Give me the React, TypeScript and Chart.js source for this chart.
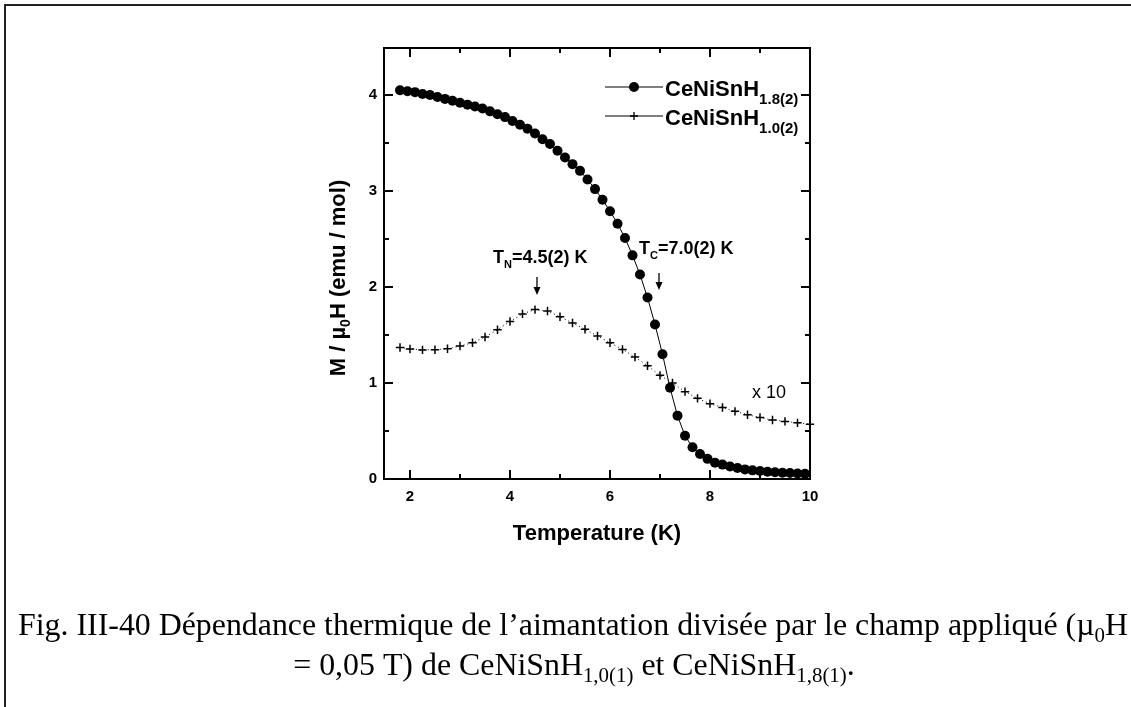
import React, { useEffect, useRef } from "react";
import { Chart, registerables } from "chart.js";

Chart.register(...registerables);

// ---- data ----
const temps18 = [1.8, 1.95, 2.1, 2.25, 2.4, 2.55, 2.7, 2.85, 3.0, 3.15, 3.3, 3.45, 3.6, 3.75, 3.9, 4.05, 4.2, 4.35, 4.5, 4.65, 4.8, 4.95, 5.1, 5.25, 5.4, 5.55, 5.7, 5.85, 6.0, 6.15, 6.3, 6.45, 6.6, 6.75, 6.9, 7.05, 7.2, 7.35, 7.5, 7.65, 7.8, 7.95, 8.1, 8.25, 8.4, 8.55, 8.7, 8.85, 9.0, 9.15, 9.3, 9.45, 9.6, 9.75, 9.9];
const moment18 = [4.05, 4.04, 4.03, 4.01, 4.0, 3.98, 3.96, 3.94, 3.92, 3.9, 3.88, 3.86, 3.83, 3.8, 3.77, 3.73, 3.69, 3.65, 3.6, 3.54, 3.49, 3.42, 3.35, 3.28, 3.21, 3.12, 3.02, 2.91, 2.79, 2.66, 2.51, 2.33, 2.13, 1.89, 1.61, 1.3, 0.95, 0.66, 0.45, 0.33, 0.26, 0.21, 0.17, 0.15, 0.13, 0.115, 0.1, 0.09, 0.083, 0.076, 0.07, 0.066, 0.062, 0.058, 0.055];

const temps10 = [1.8, 2.0, 2.25, 2.5, 2.75, 3.0, 3.25, 3.5, 3.75, 4.0, 4.25, 4.5, 4.75, 5.0, 5.25, 5.5, 5.75, 6.0, 6.25, 6.5, 6.75, 7.0, 7.25, 7.5, 7.75, 8.0, 8.25, 8.5, 8.75, 9.0, 9.25, 9.5, 9.75, 10.0];
const moment10x10 = [1.37, 1.355, 1.345, 1.347, 1.357, 1.385, 1.42, 1.48, 1.555, 1.64, 1.72, 1.765, 1.75, 1.69, 1.625, 1.56, 1.49, 1.42, 1.35, 1.27, 1.18, 1.08, 1.0, 0.91, 0.84, 0.785, 0.745, 0.705, 0.67, 0.64, 0.615, 0.6, 0.585, 0.57];

const xTicks = [2, 4, 6, 8, 10];
const yTicks = [0, 1, 2, 3, 4];
const xRange = [1.48, 10];
const yRange = [0, 4.49];

const legendBase = ["CeNiSnH", "CeNiSnH"];
const legendSub = ["1.8(2)", "1.0(2)"];

const tnValue = 4.54; // arrow position T_N
const tcValue = 6.98; // arrow position T_C

type Seg = { t: string; sub?: boolean };

const SANS = '"Liberation Sans", Arial, sans-serif';
const SERIF = '"Liberation Serif", "Times New Roman", serif';

function setFont(ctx: CanvasRenderingContext2D, weight: string, size: number, family: string) {
  ctx.font = `${weight} ${size}px ${family}`;
}

function richWidth(ctx: CanvasRenderingContext2D, segs: Seg[], size: number, subSize: number, weight: string, family: string) {
  let w = 0;
  for (const s of segs) {
    setFont(ctx, weight, s.sub ? subSize : size, family);
    w += ctx.measureText(s.t).width;
  }
  return w;
}

function drawRich(ctx: CanvasRenderingContext2D, segs: Seg[], x: number, y: number, size: number, subSize: number, subDrop: number, weight: string, family: string) {
  let cx = x;
  ctx.textBaseline = "alphabetic";
  ctx.textAlign = "left";
  for (const s of segs) {
    setFont(ctx, weight, s.sub ? subSize : size, family);
    ctx.fillText(s.t, cx, s.sub ? y + subDrop : y);
    cx += ctx.measureText(s.t).width;
  }
  return cx - x;
}

const decorPlugin = {
  id: "decor",
  afterDraw(chart: any) {
    const ctx: CanvasRenderingContext2D = chart.ctx;
    const a = chart.chartArea;
    const xs = chart.scales.x;
    const ys = chart.scales.y;
    ctx.save();
    ctx.fillStyle = "#000";
    ctx.strokeStyle = "#000";

    // figure frame (left + top)
    ctx.lineWidth = 2;
    ctx.strokeStyle = "#222";
    ctx.beginPath();
    ctx.moveTo(5, 707);
    ctx.lineTo(5, 5);
    ctx.lineTo(1131, 5);
    ctx.stroke();
    ctx.strokeStyle = "#000";

    // axes box
    ctx.lineWidth = 2;
    ctx.strokeRect(a.left, a.top, a.right - a.left, a.bottom - a.top);

    // ticks (inside, all four sides)
    const major = 9, minor = 5;
    ctx.lineWidth = 2;
    const xMinor: number[] = [];
    for (let i = 0; i < xTicks.length - 1; i++) xMinor.push((xTicks[i] + xTicks[i + 1]) / 2);
    const yMinor: number[] = [];
    for (let i = 0; i < yTicks.length - 1; i++) yMinor.push((yTicks[i] + yTicks[i + 1]) / 2);
    ctx.beginPath();
    const xt = (v: number, len: number) => {
      const px = Math.round(xs.getPixelForValue(v));
      ctx.moveTo(px, a.bottom); ctx.lineTo(px, a.bottom - len);
      ctx.moveTo(px, a.top); ctx.lineTo(px, a.top + len);
    };
    const yt = (v: number, len: number) => {
      const py = Math.round(ys.getPixelForValue(v));
      ctx.moveTo(a.left, py); ctx.lineTo(a.left + len, py);
      ctx.moveTo(a.right, py); ctx.lineTo(a.right - len, py);
    };
    xTicks.forEach(v => xt(v, major));
    xMinor.forEach(v => xt(v, minor));
    yTicks.forEach(v => yt(v, major));
    yMinor.forEach(v => yt(v, minor));
    ctx.stroke();

    // axis titles
    setFont(ctx, "bold", 22, SANS);
    ctx.textAlign = "center";
    ctx.textBaseline = "alphabetic";
    ctx.fillText("Temperature (K)", (a.left + a.right) / 2, 540);

    const ySegs: Seg[] = [{ t: "M / \u00b5" }, { t: "0", sub: true }, { t: "H (emu / mol)" }];
    const yw = richWidth(ctx, ySegs, 22, 14, "bold", SANS);
    ctx.save();
    ctx.translate(345, 278);
    ctx.rotate(-Math.PI / 2);
    drawRich(ctx, ySegs, -yw / 2, 0, 22, 14, 5, "bold", SANS);
    ctx.restore();

    // legend
    const legY = [87, 116];
    for (let i = 0; i < 2; i++) {
      const ly = legY[i];
      ctx.lineWidth = 1;
      ctx.beginPath();
      ctx.moveTo(605, ly); ctx.lineTo(663, ly);
      ctx.stroke();
      if (i === 0) {
        ctx.beginPath();
        ctx.arc(634, ly, 5, 0, Math.PI * 2);
        ctx.fill();
      } else {
        ctx.lineWidth = 1.3;
        ctx.beginPath();
        ctx.moveTo(630, ly); ctx.lineTo(638, ly);
        ctx.moveTo(634, ly - 4); ctx.lineTo(634, ly + 4);
        ctx.stroke();
      }
      drawRich(ctx, [{ t: legendBase[i] }, { t: legendSub[i], sub: true }], 665, ly + 9, 22, 15, 8, "bold", SANS);
    }

    // annotations
    const tnX = xs.getPixelForValue(tnValue);
    const tcX = xs.getPixelForValue(tcValue);
    drawRich(ctx, [{ t: "T" }, { t: "N", sub: true }, { t: "=4.5(2) K" }], 493, 263, 18, 11, 5, "bold", SANS);
    drawRich(ctx, [{ t: "T" }, { t: "C", sub: true }, { t: "=7.0(2) K" }], 639, 254, 18, 11, 5, "bold", SANS);
    const arrow = (x: number, y0: number, y1: number) => {
      ctx.lineWidth = 1.3;
      ctx.beginPath();
      ctx.moveTo(x, y0); ctx.lineTo(x, y1 - 6);
      ctx.stroke();
      ctx.beginPath();
      ctx.moveTo(x - 3.5, y1 - 8);
      ctx.lineTo(x + 3.5, y1 - 8);
      ctx.lineTo(x, y1);
      ctx.closePath();
      ctx.fill();
    };
    arrow(tnX, 277, 295);
    arrow(tcX, 273, 290);

    setFont(ctx, "normal", 18, SANS);
    ctx.textAlign = "left";
    ctx.fillText("x 10", 752, 398);

    // caption
    const cap1: Seg[] = [{ t: "Fig. III-40 D\u00e9pendance thermique de l\u2019aimantation divis\u00e9e par le champ appliqu\u00e9 (\u00b5" }, { t: "0", sub: true }, { t: "H" }];
    const cap2: Seg[] = [{ t: "= 0,05 T) de CeNiSnH" }, { t: "1,0(1)", sub: true }, { t: " et CeNiSnH" }, { t: "1,8(1)", sub: true }, { t: "." }];
    const cs = 32, css = 21;
    const w1 = richWidth(ctx, cap1, cs, css, "normal", SERIF);
    const sx = 1110 / w1;
    ctx.save();
    ctx.translate(18, 635);
    ctx.scale(sx, 1);
    drawRich(ctx, cap1, 0, 0, cs, css, 7, "normal", SERIF);
    ctx.restore();
    const w2 = richWidth(ctx, cap2, cs, css, "normal", SERIF) * sx;
    ctx.save();
    ctx.translate(574 - w2 / 2, 675);
    ctx.scale(sx, 1);
    drawRich(ctx, cap2, 0, 0, cs, css, 7, "normal", SERIF);
    ctx.restore();

    ctx.restore();
  },
};

export default function App() {
  const ref = useRef<HTMLCanvasElement | null>(null);
  useEffect(() => {
    if (!ref.current) return;
    const chart = new Chart(ref.current, {
      type: "scatter",
      data: {
        datasets: [
          {
            label: "CeNiSnH1.8(2)",
            data: temps18.map((t, i) => ({ x: t, y: moment18[i] })),
            showLine: true,
            borderColor: "#000",
            backgroundColor: "#000",
            borderWidth: 1,
            pointStyle: "circle",
            pointRadius: 5,
            pointBorderWidth: 0,
            pointBackgroundColor: "#000",
            clip: false as any,
            order: 1,
          },
          {
            label: "CeNiSnH1.0(2)",
            data: temps10.map((t, i) => ({ x: t, y: moment10x10[i] })),
            showLine: true,
            borderColor: "#000",
            backgroundColor: "#000",
            borderWidth: 1,
            borderDash: [1, 3],
            pointStyle: "cross",
            pointRadius: 4.2,
            pointBorderWidth: 1.5,
            pointBorderColor: "#000",
            clip: false as any,
            order: 2,
          },
        ],
      },
      options: {
        animation: false,
        responsive: false,
        devicePixelRatio: 1,
        layout: { padding: { top: 48, right: 321, left: 0, bottom: 0 } },
        plugins: { legend: { display: false }, tooltip: { enabled: false } },
        scales: {
          x: {
            type: "linear",
            min: xRange[0],
            max: xRange[1],
            grid: { display: false, drawTicks: false },
            border: { display: false },
            afterBuildTicks: (s: any) => { s.ticks = xTicks.map(v => ({ value: v })); },
            afterFit: (s: any) => { s.height = 228; },
            ticks: {
              padding: 9,
              color: "#000",
              maxRotation: 0,
              font: { family: SANS, size: 15, weight: "bold" },
            },
          },
          y: {
            type: "linear",
            min: yRange[0],
            max: yRange[1],
            grid: { display: false, drawTicks: false },
            border: { display: false },
            afterBuildTicks: (s: any) => { s.ticks = yTicks.map(v => ({ value: v })); },
            afterFit: (s: any) => { s.width = 384; },
            ticks: {
              padding: 7,
              color: "#000",
              font: { family: SANS, size: 15, weight: "bold" },
            },
          },
        },
      },
      plugins: [decorPlugin],
    });
    return () => chart.destroy();
  }, []);
  return (
    <div style={{ position: "fixed", left: 0, top: 0, width: 1131, height: 707, background: "#fff" }}>
      <canvas ref={ref} width={1131} height={707} style={{ display: "block", width: 1131, height: 707 }} />
    </div>
  );
}
